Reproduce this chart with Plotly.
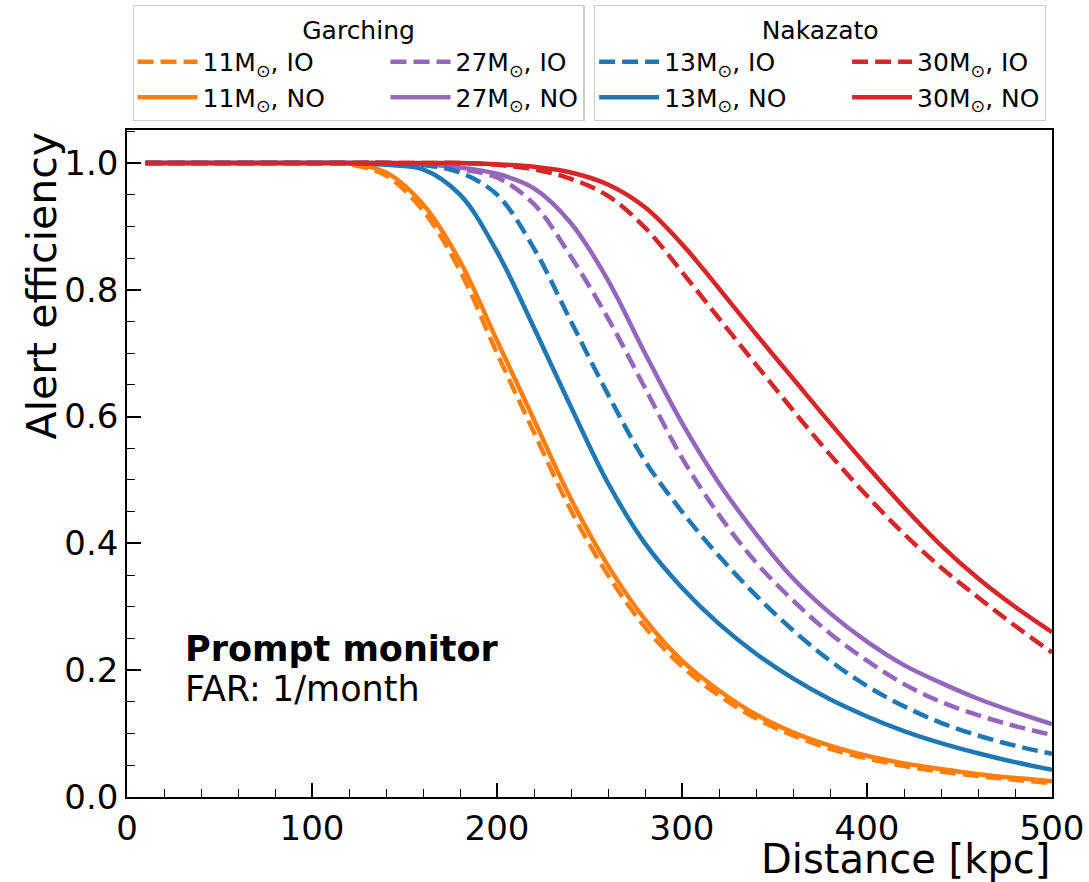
import plotly.graph_objects as go

# distance grid [kpc] and alert efficiency
dist = [10, 60, 100, 120, 140, 160, 180, 200, 220, 240, 260, 280, 300,
        320, 340, 360, 380, 400, 420, 440, 460, 480, 500]

g11_io = [1.0, 1.0, 1.0, 0.998, 0.98, 0.925, 0.83, 0.70, 0.575, 0.452, 0.35, 0.268, 0.206,
          0.16, 0.124, 0.097, 0.076, 0.061, 0.049, 0.040, 0.033, 0.027, 0.022]
g11_no = [1.0, 1.0, 1.0, 0.999, 0.985, 0.935, 0.845, 0.72, 0.595, 0.47, 0.365, 0.28, 0.215,
          0.168, 0.13, 0.102, 0.081, 0.065, 0.053, 0.044, 0.036, 0.030, 0.025]
g27_io = [1.0, 1.0, 1.0, 1.0, 1.0, 0.997, 0.99, 0.977, 0.935, 0.852, 0.755, 0.645, 0.535,
          0.445, 0.37, 0.31, 0.258, 0.215, 0.178, 0.15, 0.129, 0.112, 0.098]
g27_no = [1.0, 1.0, 1.0, 1.0, 1.0, 0.998, 0.993, 0.983, 0.96, 0.905, 0.815, 0.70, 0.59,
          0.495, 0.415, 0.345, 0.29, 0.245, 0.208, 0.18, 0.155, 0.134, 0.115]
n13_io = [1.0, 1.0, 1.0, 1.0, 1.0, 0.997, 0.985, 0.95, 0.865, 0.75, 0.635, 0.53, 0.45,
          0.38, 0.318, 0.263, 0.215, 0.175, 0.143, 0.117, 0.097, 0.081, 0.068]
n13_no = [1.0, 1.0, 1.0, 1.0, 0.997, 0.99, 0.95, 0.86, 0.74, 0.615, 0.495, 0.40, 0.33,
          0.273, 0.226, 0.187, 0.154, 0.127, 0.104, 0.085, 0.069, 0.055, 0.043]
n30_io = [1.0, 1.0, 1.0, 1.0, 1.0, 1.0, 1.0, 0.997, 0.99, 0.975, 0.948, 0.898, 0.828,
          0.755, 0.682, 0.61, 0.54, 0.475, 0.415, 0.362, 0.315, 0.27, 0.228]
n30_no = [1.0, 1.0, 1.0, 1.0, 1.0, 1.0, 1.0, 0.998, 0.994, 0.985, 0.966, 0.93, 0.872,
          0.802, 0.73, 0.66, 0.59, 0.522, 0.457, 0.397, 0.345, 0.30, 0.26]

orange, purple, blue, red = '#ff7f0e', '#9467bd', '#1f77b4', '#d62728'
M = 'M<sub>⊙</sub>'
pad = '\u00a0' * 7   # widens the first legend column

# (name, values, colour, dashed, legend, group)
series = [
    ('11' + M + ', IO' + pad, g11_io, orange, True, 'legend', 'g11'),
    ('11' + M + ', NO' + pad, g11_no, orange, False, 'legend', 'g11'),
    ('27' + M + ', IO', g27_io, purple, True, 'legend', 'g27'),
    ('27' + M + ', NO', g27_no, purple, False, 'legend', 'g27'),
    ('13' + M + ', IO' + pad, n13_io, blue, True, 'legend2', 'n13'),
    ('13' + M + ', NO' + pad, n13_no, blue, False, 'legend2', 'n13'),
    ('30' + M + ', IO', n30_io, red, True, 'legend2', 'n30'),
    ('30' + M + ', NO', n30_no, red, False, 'legend2', 'n30'),
]

fig = go.Figure()
for name, vals, col, dashed, leg, grp in series:
    fig.add_trace(go.Scatter(
        x=dist, y=vals, mode='lines', name=name,
        line=dict(color=col, width=4.5, shape='spline', smoothing=1.0,
                  dash='16px,7px' if dashed else 'solid'),
        legend=leg, legendgroup=grp))

axis_common = dict(showline=True, linecolor='black', linewidth=1.5, mirror=True,
                   ticks='inside', ticklen=14, tickwidth=1.5, tickcolor='black',
                   showgrid=False, zeroline=False,
                   tickfont=dict(family='DejaVu Sans', size=34, color='black'))

fig.update_xaxes(range=[0, 500], dtick=100,
                 minor=dict(ticks='inside', ticklen=8, dtick=20, tickcolor='black', tickwidth=1.2),
                 **axis_common)
fig.update_yaxes(range=[0, 1.052], dtick=0.2, tickformat='.1f',
                 minor=dict(ticks='inside', ticklen=8, dtick=0.05, tickcolor='black', tickwidth=1.2),
                 **axis_common)

title_font = dict(family='DejaVu Sans', size=25, color='black')
legend_common = dict(orientation='h', traceorder='grouped', yanchor='top', y=1.187,
                     bgcolor='white', bordercolor='#cccccc', borderwidth=1.2,
                     font=dict(family='DejaVu Sans', size=25, color='black'),
                     itemwidth=60, tracegroupgap=0)
fig.update_layout(
    legend=dict(x=0.006, xanchor='left',
                title=dict(text='Garching', side='top center', font=title_font),
                **legend_common),
    legend2=dict(x=0.505, xanchor='left',
                 title=dict(text='Nakazato', side='top center', font=title_font),
                 **legend_common),
)

fig.add_annotation(text='<b>Prompt monitor</b>', x=30, y=0.233, xref='x', yref='y',
                   xanchor='left', showarrow=False,
                   font=dict(family='DejaVu Sans', size=35, color='black'))
fig.add_annotation(text='FAR: 1/month', x=30, y=0.17, xref='x', yref='y',
                   xanchor='left', showarrow=False,
                   font=dict(family='DejaVu Sans', size=35, color='black'))
fig.add_annotation(text='Distance [kpc]', x=1.0, y=-0.093, xref='paper', yref='paper',
                   xanchor='right', yanchor='middle', showarrow=False,
                   font=dict(family='DejaVu Sans', size=40, color='black'))
fig.add_annotation(text='Alert efficiency', x=-0.092, y=1.0, xref='paper', yref='paper',
                   xanchor='center', yanchor='top', textangle=-90, showarrow=False,
                   font=dict(family='DejaVu Sans', size=41, color='black'))

fig.update_layout(width=1089, height=882, plot_bgcolor='white', paper_bgcolor='white',
                  margin=dict(l=127, r=37, t=130, b=85, autoexpand=False))

# drop the page's default body margin so the figure sits at the window's corner
fig.write_html('out.html', config={'displayModeBar': False},
               post_script="document.body.style.margin='0';")
